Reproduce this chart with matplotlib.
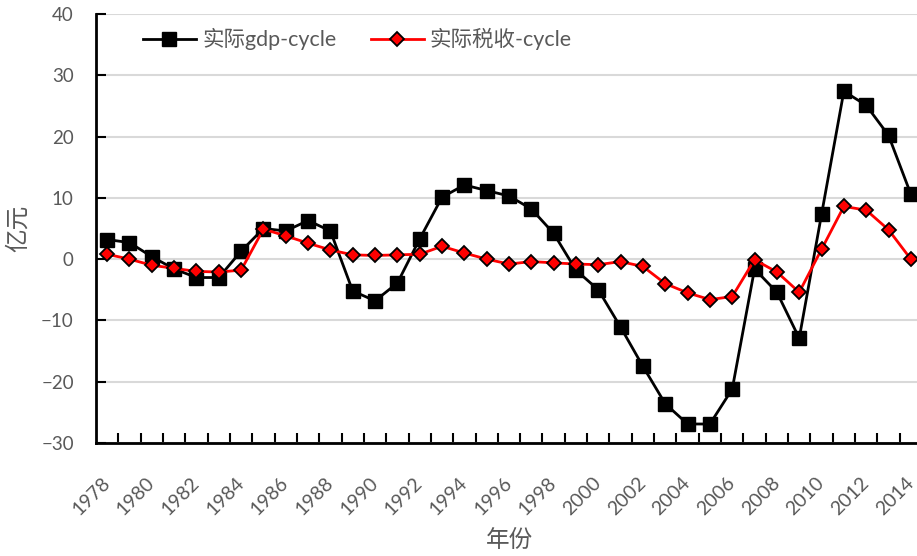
import numpy as np
import matplotlib
matplotlib.use("Agg")
import matplotlib.pyplot as plt
from matplotlib.ticker import FixedLocator

plt.rcParams['font.family'] = ['Lato', 'Noto Sans CJK SC', 'DejaVu Sans']

years = list(range(1978, 2015))
gdp_cycle = [3.2, 2.7, 0.4, -1.6, -3.0, -3.0, 1.3, 5.0, 4.6, 6.3, 4.6, -5.2, -6.8,
             -3.9, 3.3, 10.1, 12.1, 11.2, 10.3, 8.2, 4.2, -1.8, -5.0, -11.1, -17.5,
             -23.6, -26.9, -26.9, -21.2, -1.6, -5.4, -12.9, 7.3, 27.4, 25.1, 20.2, 10.6]
tax_cycle = [0.8, 0.0, -1.0, -1.5, -2.0, -2.1, -1.8, 4.9, 3.8, 2.6, 1.5, 0.7, 0.6,
             0.7, 0.8, 2.1, 1.0, 0.0, -0.8, -0.4, -0.6, -0.8, -0.9, -0.4, -1.2,
             -4.0, -5.5, -6.6, -6.1, -0.1, -2.1, -5.4, 1.6, 8.6, 8.0, 4.8, 0.0]
label_years = years[::2]
y_ticks = [-30, -20, -10, 0, 10, 20, 30, 40]

gray = '#595959'

fig = plt.figure(figsize=(9.17, 5.56), dpi=100)
ax = fig.add_axes([96 / 917, 1 - 443 / 556, 826 / 917, 429 / 556])

ax.plot(years, gdp_cycle, color='black', lw=2.0, marker='s', ms=10,
        mfc='black', mec='black', label='实际gdp-cycle', zorder=3)
ax.plot(years, tax_cycle, color='#FF0000', lw=2.0, marker='D', ms=6.8,
        mfc='#FF0000', mec='black', mew=1.3, label='实际税收-cycle', zorder=4)

ax.set_xlim(1977.5, 2014.5)
ax.set_ylim(-30, 40)
ax.set_yticks(y_ticks)
ax.yaxis.grid(True, color='#d9d9d9', lw=1.5)
ax.set_axisbelow(True)

for s in ['top', 'right']:
    ax.spines[s].set_visible(False)
for s in ['left', 'bottom']:
    ax.spines[s].set_linewidth(2)
    ax.spines[s].set_color('black')

ax.set_xticks(label_years)
ax.set_xticklabels([str(y) for y in label_years], rotation=45, ha='right',
                   va='center', rotation_mode='anchor')
ax.xaxis.set_minor_locator(FixedLocator(np.arange(1978.5, 2014.5, 1)))
ax.tick_params(axis='x', which='major', length=0, pad=27, labelsize=14, labelcolor=gray)
ax.tick_params(axis='x', which='minor', direction='in', length=7, width=1.5, color='black')
ax.tick_params(axis='y', direction='in', length=7, width=1.5, color='black',
               pad=16, labelsize=13.5, labelcolor=gray)

ax.set_xlabel('年份', fontsize=17, color=gray)
ax.set_ylabel('亿元', fontsize=17, color=gray)
ax.xaxis.set_label_coords(0.501, -0.226)
ax.xaxis.label.set_va('center')
ax.yaxis.set_label_coords(-0.095, 0.5)
ax.yaxis.label.set_va('center')

leg = ax.legend(loc='center left', bbox_to_anchor=(47 / 826, 1 - 25 / 429), ncol=2,
                frameon=False, fontsize=15.5, handlelength=2.46, handletextpad=0.28,
                columnspacing=1.6, borderaxespad=0, borderpad=0)
for t in leg.get_texts():
    t.set_color(gray)

fig.savefig('out.png', dpi=100)
